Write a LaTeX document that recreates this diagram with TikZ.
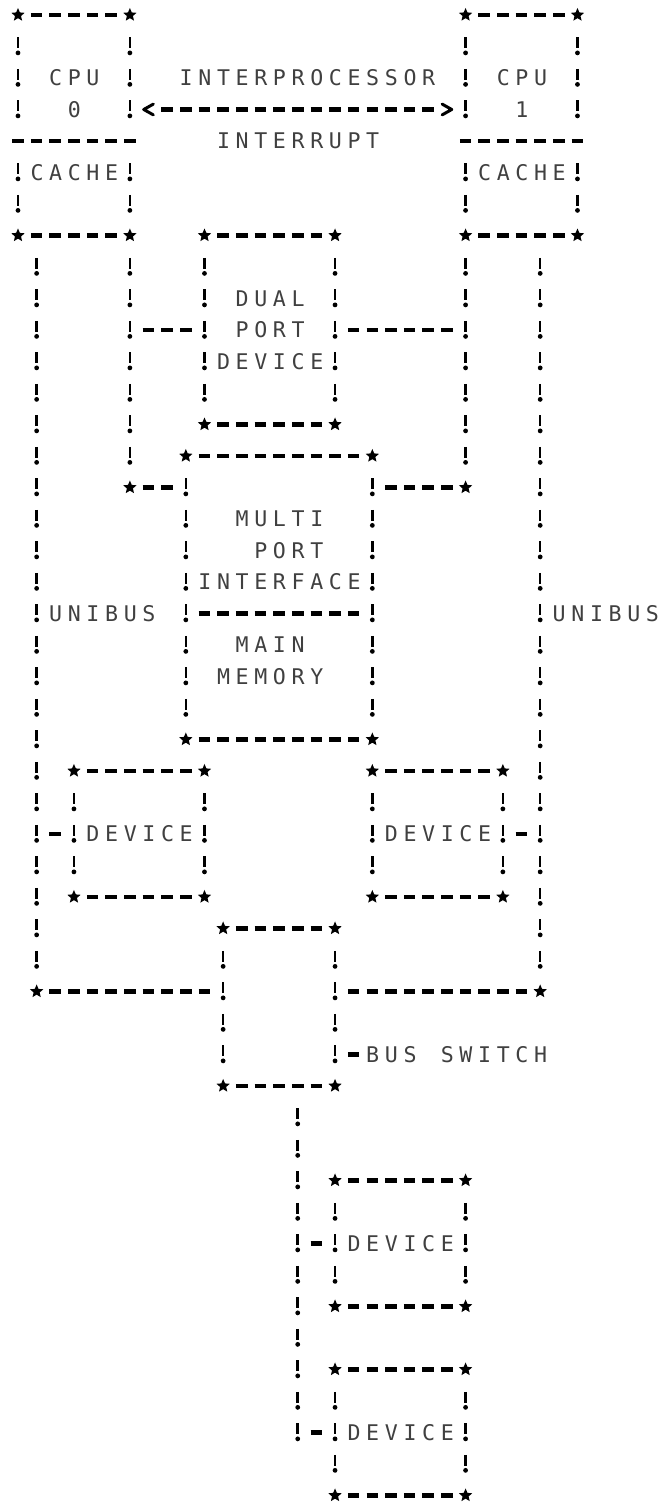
\documentclass[tikz,border=0pt]{standalone}
\usepackage{fontspec}
\newfontfamily\ttyfont{DejaVu Sans Mono}
\usetikzlibrary{shapes.geometric}
\newlength\cw
\setlength\cw{9.325pt}
\def\ttyword#1{\ttyloop#1\relax}
\def\ttyloop#1{\ifx\relax#1\else\makebox[\cw]{#1}\expandafter\ttyloop\fi}
\newcommand\word[4]{\node[lbl] (#1) at (#2-0.5,#3) {\ttyword{#4}};}
\newcommand\corn[3]{\node[corner] (#1) at (#2,#3) {};}

\tikzset{
  corner/.style={star,star points=5,star point ratio=2.2,minimum size=7pt,inner sep=0pt,fill=black,draw=none},
  hrun/.style={draw=black,line width=2.1pt,dash pattern=on 5.8pt off 3.525pt,shorten <=6.425pt,shorten >=6.425pt},
  vrun/.style={draw=black,line width=1.3pt,dash pattern=on 5.5pt off 10.25pt,shorten <=11.25pt,shorten >=14.75pt,
     postaction={draw=black,line width=2.4pt,line cap=round,dash pattern=on 0pt off 15.75pt,shorten <=18.95pt,shorten >=12.4pt}},
  lbl/.style={font=\ttyfont\fontsize{10.8}{12}\selectfont,text=black!75,inner sep=0pt,anchor=base west,yshift=-3.9pt},
  chev/.style={draw=black,line width=1.5pt,line join=round,line cap=round},
}

\begin{document}
\begin{tikzpicture}[x=9.325pt,y=-15.75pt]
\fill[white] (-0.965,-0.476) rectangle (34.53,47.24);
\useasboundingbox (-0.965,-0.476) rectangle (34.53,47.24);

% ---------- CPU 0 with cache ----------
\corn{a0}{0}{0}\corn{a1}{6}{0}\corn{a2}{0}{7}\corn{a3}{6}{7}
\coordinate (a4) at (0,4); \coordinate (a5) at (6,4);
\coordinate (a6) at (-1,4); \coordinate (a7) at (7,4);
\path[hrun] (a0.center) -- (a1.center);
\path[hrun] (a2.center) -- (a3.center);
\path[hrun] (a6) -- (a7);
\path[vrun] (a0.center) -- (a4);
\path[vrun] (a1.center) -- (a5);
\path[vrun] (a4) -- (a2.center);
\path[vrun] (a5) -- (a3.center);
\word{cpu0}{2}{2}{CPU}
\word{num0}{3}{3}{0}
\word{cache0}{1}{5}{CACHE}

% ---------- CPU 1 with cache ----------
\corn{b0}{24}{0}\corn{b1}{30}{0}\corn{b2}{24}{7}\corn{b3}{30}{7}
\coordinate (b4) at (24,4); \coordinate (b5) at (30,4);
\coordinate (b6) at (23,4); \coordinate (b7) at (31,4);
\path[hrun] (b0.center) -- (b1.center);
\path[hrun] (b2.center) -- (b3.center);
\path[hrun] (b6) -- (b7);
\path[vrun] (b0.center) -- (b4);
\path[vrun] (b1.center) -- (b5);
\path[vrun] (b4) -- (b2.center);
\path[vrun] (b5) -- (b3.center);
\word{cpu1}{26}{2}{CPU}
\word{num1}{27}{3}{1}
\word{cache1}{25}{5}{CACHE}

% ---------- interprocessor interrupt ----------
\word{ipa}{9}{2}{INTERPROCESSOR}
\word{ipb}{11}{4}{INTERRUPT}
\coordinate (al) at (7,3); \coordinate (ar) at (23,3);
\path[hrun] (al) -- (ar);
\draw[chev] ([xshift=2.4pt,yshift=2.7pt]al) -- ([xshift=-2.4pt]al) -- ([xshift=2.4pt,yshift=-2.7pt]al);
\draw[chev] ([xshift=-2.4pt,yshift=2.7pt]ar) -- ([xshift=2.4pt]ar) -- ([xshift=-2.4pt,yshift=-2.7pt]ar);

% ---------- buses from the CPUs ----------
\coordinate (lb0) at (1,7);  \corn{lb1}{1}{31}
\corn{li1}{6}{15}
\corn{ri1}{24}{15}
\coordinate (rb0) at (28,7); \corn{rb1}{28}{31}
\path[vrun] (lb0) -- (lb1.center);
\path[vrun] (a3.center) -- (li1.center);
\path[vrun] (b2.center) -- (ri1.center);
\path[vrun] (rb0) -- (rb1.center);
\word{ubl}{2}{19}{UNIBUS}
\word{ubr}{29}{19}{UNIBUS}

% ---------- dual port device ----------
\corn{d0}{10}{7}\corn{d1}{17}{7}\corn{d2}{10}{13}\corn{d3}{17}{13}
\path[hrun] (d0.center) -- (d1.center);
\path[hrun] (d2.center) -- (d3.center);
\path[vrun] (d0.center) -- (d2.center);
\path[vrun] (d1.center) -- (d3.center);
\word{dpa}{12}{9}{DUAL}
\word{dpb}{12}{10}{PORT}
\word{dpc}{11}{11}{DEVICE}
\coordinate (li10) at (6,10);  \coordinate (dl10) at (10,10);
\coordinate (dr10) at (17,10); \coordinate (ri10) at (24,10);
\path[hrun] (li10) -- (dl10);
\path[hrun] (dr10) -- (ri10);

% ---------- multi port interface / main memory ----------
\corn{m0}{9}{14}\corn{m1}{19}{14}\corn{m2}{9}{23}\corn{m3}{19}{23}
\path[hrun] (m0.center) -- (m1.center);
\path[hrun] (m2.center) -- (m3.center);
\path[vrun] (m0.center) -- (m2.center);
\path[vrun] (m1.center) -- (m3.center);
\coordinate (ml19) at (9,19); \coordinate (mr19) at (19,19);
\path[hrun] (ml19) -- (mr19);
\coordinate (ml15) at (9,15); \coordinate (mr15) at (19,15);
\path[hrun] (li1.center) -- (ml15);
\path[hrun] (mr15) -- (ri1.center);
\word{mpa}{12}{16}{MULTI}
\word{mpb}{13}{17}{PORT}
\word{mpc}{10}{18}{INTERFACE}
\word{mma}{12}{20}{MAIN}
\word{mmb}{11}{21}{MEMORY}

% ---------- devices on the unibuses ----------
\corn{e0}{3}{24}\corn{e1}{10}{24}\corn{e2}{3}{28}\corn{e3}{10}{28}
\path[hrun] (e0.center) -- (e1.center);
\path[hrun] (e2.center) -- (e3.center);
\path[vrun] (e0.center) -- (e2.center);
\path[vrun] (e1.center) -- (e3.center);
\word{deva}{4}{26}{DEVICE}
\coordinate (lb26) at (1,26); \coordinate (el26) at (3,26);
\path[hrun] (lb26) -- (el26);

\corn{f0}{19}{24}\corn{f1}{26}{24}\corn{f2}{19}{28}\corn{f3}{26}{28}
\path[hrun] (f0.center) -- (f1.center);
\path[hrun] (f2.center) -- (f3.center);
\path[vrun] (f0.center) -- (f2.center);
\path[vrun] (f1.center) -- (f3.center);
\word{devb}{20}{26}{DEVICE}
\coordinate (fr26) at (26,26); \coordinate (rb26) at (28,26);
\path[hrun] (fr26) -- (rb26);

% ---------- bus switch ----------
\corn{s0}{11}{29}\corn{s1}{17}{29}\corn{s2}{11}{34}\corn{s3}{17}{34}
\path[hrun] (s0.center) -- (s1.center);
\path[hrun] (s2.center) -- (s3.center);
\path[vrun] (s0.center) -- (s2.center);
\path[vrun] (s1.center) -- (s3.center);
\coordinate (sl31) at (11,31); \coordinate (sr31) at (17,31);
\path[hrun] (lb1.center) -- (sl31);
\path[hrun] (sr31) -- (rb1.center);
\coordinate (sr33) at (17,33); \coordinate (bsw) at (19,33);
\path[hrun] (sr33) -- (bsw);
\word{bsa}{19}{33}{BUS}
\word{bsb}{23}{33}{SWITCH}

% ---------- lower bus and its devices ----------
\coordinate (lo0) at (15,34); \coordinate (lo1) at (15,46);
\path[vrun] (lo0) -- (lo1);

\corn{g0}{17}{37}\corn{g1}{24}{37}\corn{g2}{17}{41}\corn{g3}{24}{41}
\path[hrun] (g0.center) -- (g1.center);
\path[hrun] (g2.center) -- (g3.center);
\path[vrun] (g0.center) -- (g2.center);
\path[vrun] (g1.center) -- (g3.center);
\word{devc}{18}{39}{DEVICE}
\coordinate (lo39) at (15,39); \coordinate (gl39) at (17,39);
\path[hrun] (lo39) -- (gl39);

\corn{h0}{17}{43}\corn{h1}{24}{43}\corn{h2}{17}{47}\corn{h3}{24}{47}
\path[hrun] (h0.center) -- (h1.center);
\path[hrun] (h2.center) -- (h3.center);
\path[vrun] (h0.center) -- (h2.center);
\path[vrun] (h1.center) -- (h3.center);
\word{devd}{18}{45}{DEVICE}
\coordinate (lo45) at (15,45); \coordinate (hl45) at (17,45);
\path[hrun] (lo45) -- (hl45);
\end{tikzpicture}
\end{document}
